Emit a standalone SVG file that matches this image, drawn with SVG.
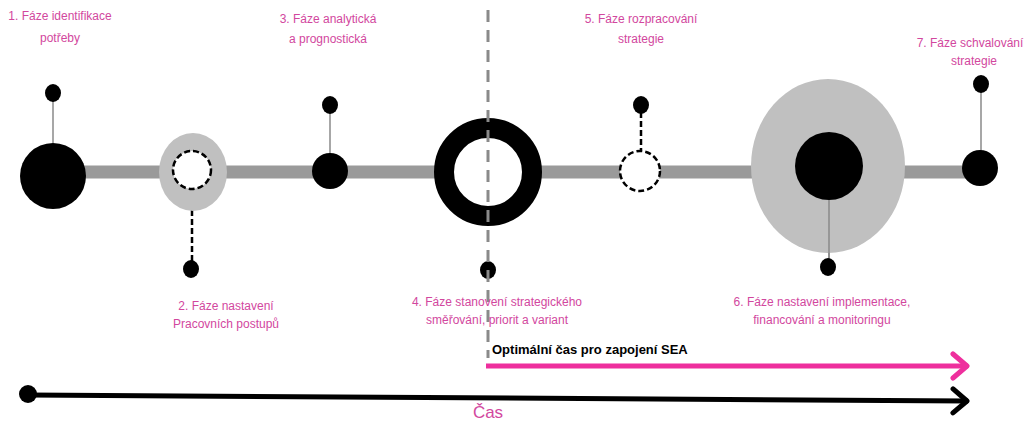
<svg xmlns="http://www.w3.org/2000/svg" width="1034" height="425" viewBox="0 0 1034 425">
<style>
.lbl{font-family:"Liberation Sans",Arial,sans-serif;font-size:12px;fill:#d2479e;text-anchor:middle}
.pin{stroke:#8a8a8a;stroke-width:1.5;fill:none}
.dot{fill:#000}
.dash{stroke:#000;stroke-width:2.5;stroke-dasharray:6 3;fill:none}
.halo{fill:#c0c0c0}
</style>
<defs>
<marker id="hp" viewBox="0 0 20 30" refX="18" refY="15" markerWidth="20" markerHeight="30" markerUnits="userSpaceOnUse" orient="auto">
<path d="M3,3 L17,15 L3,27" fill="none" stroke="#ee2f9d" stroke-width="5" stroke-linecap="round" stroke-linejoin="round"/>
</marker>
<marker id="hb" viewBox="0 0 20 30" refX="18" refY="15" markerWidth="20" markerHeight="30" markerUnits="userSpaceOnUse" orient="auto">
<path d="M3,3 L17,15 L3,27" fill="none" stroke="#000" stroke-width="5" stroke-linecap="round" stroke-linejoin="round"/>
</marker>
</defs>
<rect width="1034" height="425" fill="#fff"/>
<g id="connectors">
<line x1="55" y1="172" x2="978" y2="172" stroke="#9a9a9a" stroke-width="13"/>
<line x1="53" y1="100" x2="53" y2="143" class="pin"/>
<line x1="192" y1="192" x2="192" y2="262" class="dash"/>
<line x1="330" y1="112" x2="330" y2="154" class="pin"/>
<line x1="641" y1="112" x2="641" y2="150" class="dash"/>
<line x1="829" y1="200" x2="829" y2="260" class="pin"/>
<line x1="981" y1="91" x2="981" y2="151" class="pin"/>
<line x1="28" y1="395" x2="968" y2="401" stroke="#000" stroke-width="5" marker-end="url(#hb)"/>
<line x1="486" y1="366" x2="968" y2="366" stroke="#ee2f9d" stroke-width="5" marker-end="url(#hp)"/>
</g>
<g id="node1">
<circle cx="53" cy="176" r="33" class="dot"/>
<ellipse cx="53" cy="93" rx="8" ry="9" class="dot"/>
<text class="lbl" x="60" y="20">1. Fáze identifikace</text>
<text class="lbl" x="60" y="42">potřeby</text>
</g>
<g id="node2">
<ellipse cx="193" cy="172" rx="34" ry="39" class="halo"/>
<circle cx="192" cy="170" r="19" fill="#fff" stroke="#000" stroke-width="2.5" stroke-dasharray="6 3"/>
<ellipse cx="191" cy="269" rx="8" ry="9" class="dot"/>
<text class="lbl" x="226" y="310">2. Fáze nastavení</text>
<text class="lbl" x="226" y="328">Pracovních postupů</text>
</g>
<g id="node3">
<circle cx="330" cy="171" r="18" class="dot"/>
<ellipse cx="330" cy="105" rx="8" ry="9" class="dot"/>
<text class="lbl" x="328" y="23">3. Fáze analytická</text>
<text class="lbl" x="328" y="43">a prognostická</text>
</g>
<g id="node4">
<circle cx="488" cy="172" r="44" fill="#fff" stroke="#000" stroke-width="20"/>
<ellipse cx="488" cy="270" rx="8" ry="9" class="dot"/>
<line x1="488" y1="10" x2="488" y2="358" stroke="#8a8a8a" stroke-width="3" stroke-dasharray="12 8"/>
<text class="lbl" x="497" y="306">4. Fáze stanovení strategického</text>
<text class="lbl" x="497" y="324">směřování, priorit a variant</text>
</g>
<g id="node5">
<circle cx="640" cy="171" r="20" fill="#fff" stroke="#000" stroke-width="2.5" stroke-dasharray="6 3"/>
<ellipse cx="641" cy="105" rx="8" ry="9" class="dot"/>
<text class="lbl" x="641" y="23">5. Fáze rozpracování</text>
<text class="lbl" x="641" y="43">strategie</text>
</g>
<g id="node6">
<ellipse cx="828" cy="166" rx="77" ry="87" class="halo"/>
<circle cx="829" cy="166" r="34" class="dot"/>
<line x1="829" y1="200" x2="829" y2="260" class="pin"/>
<ellipse cx="828" cy="267" rx="8" ry="9" class="dot"/>
<text class="lbl" x="822" y="306">6. Fáze nastavení implementace,</text>
<text class="lbl" x="822" y="324">financování a monitoringu</text>
</g>
<g id="node7">
<circle cx="980" cy="168" r="18" class="dot"/>
<ellipse cx="981" cy="84" rx="8" ry="9" class="dot"/>
<text class="lbl" x="970" y="47">7. Fáze schvalování</text>
<text class="lbl" x="974" y="65">strategie</text>
</g>
<g id="timeline">
<circle cx="28" cy="394" r="9" class="dot"/>
<text x="492" y="354" font-family="Liberation Sans,Arial,sans-serif" font-size="13" font-weight="bold" fill="#000">Optimální čas pro zapojení SEA</text>
<text x="488" y="418" font-family="Liberation Sans,Arial,sans-serif" font-size="17" fill="#d2479e" text-anchor="middle">Čas</text>
</g>
</svg>
